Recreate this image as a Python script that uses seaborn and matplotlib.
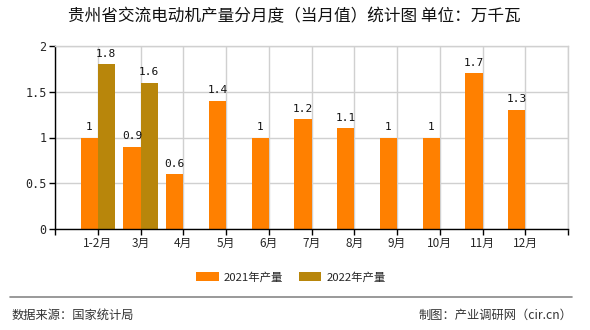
import numpy as np
import pandas as pd
import matplotlib
matplotlib.use("Agg")
import matplotlib.pyplot as plt
import seaborn as sns
from matplotlib.patches import Patch

months = ["1-2月", "3月", "4月", "5月", "6月", "7月", "8月", "9月", "10月", "11月", "12月"]
v2021 = [1, 0.9, 0.6, 1.4, 1, 1.2, 1.1, 1, 1, 1.7, 1.3]
v2022 = [1.8, 1.6, np.nan, np.nan, np.nan, np.nan, np.nan, np.nan, np.nan, np.nan, np.nan]
series = ["2021年产量", "2022年产量"]
colors = ["#FF8000", "#B8860B"]
yticks = [0, 0.5, 1, 1.5, 2]
ytick_labels = ["0", "0.5", "1", "1.5", "2"]
title = "贵州省交流电动机产量分月度（当月值）统计图 单位：万千瓦"

df = pd.DataFrame({
    "month": months * 2,
    "value": v2021 + v2022,
    "series": [series[0]] * len(months) + [series[1]] * len(months),
})

sns.set_theme(style="white")
plt.rcParams["font.family"] = ["Noto Sans CJK SC", "DejaVu Sans"]

fig = plt.figure(figsize=(5.9, 3.3), dpi=100)
ax = fig.add_axes([55 / 590, 1 - 229 / 330, (568 - 55) / 590, (229 - 46) / 330])

sns.barplot(data=df, x="month", y="value", hue="series", order=months,
            hue_order=series, palette=colors, width=0.8, ax=ax,
            saturation=1, legend=False, linewidth=0, edgecolor="none")

for cont in ax.containers:
    labels = []
    for b in cont:
        h = b.get_height()
        labels.append("" if (h is None or np.isnan(h)) else f"{h:g}")
    ax.bar_label(cont, labels=labels, padding=4, fontsize=8,
                 family=["DejaVu Sans Mono", "DejaVu Sans"], color="#111111")

ax.set_xlim(-1, len(months))
ax.set_ylim(0, 2)
ax.set_xticks(range(-1, len(months) + 1))
ax.set_xticklabels([""] + months + [""], fontsize=8.5)
ax.set_yticks(yticks)
ax.set_yticklabels(ytick_labels, fontsize=8.5,
                   family=["DejaVu Sans Mono", "DejaVu Sans"])
ax.set_xlabel("")
ax.set_ylabel("")
ax.grid(True, color="#d0d0d0", linewidth=1)
ax.set_axisbelow(True)
ax.tick_params(axis="both", length=4, width=1, color="black", direction="out", pad=2)
ax.tick_params(axis="x", bottom=True)
ax.tick_params(axis="y", left=True)
for s in ["top", "right"]:
    ax.spines[s].set_color("#d0d0d0")
    ax.spines[s].set_linewidth(1)
for s in ["left", "bottom"]:
    ax.spines[s].set_color("black")
    ax.spines[s].set_linewidth(1)

fig.text(294 / 590, 1 - 17 / 330, title, ha="center", va="center", fontsize=12, color="#111111")

handles = [Patch(facecolor=c, edgecolor="none", label=s) for c, s in zip(colors, series)]
fig.legend(handles=handles, loc="center", bbox_to_anchor=(291 / 590, 1 - 277 / 330), ncol=2,
           frameon=False, fontsize=8.2, handlelength=1.95, handleheight=0.8,
           columnspacing=1.4, handletextpad=0.45, borderpad=0, borderaxespad=0)

fig.add_artist(plt.Line2D([10 / 590, 572 / 590], [1 - 297 / 330, 1 - 297 / 330],
                          color="#888888", linewidth=1.2))
fig.text(12 / 590, 1 - 315 / 330, "数据来源：国家统计局", ha="left", va="center", fontsize=8.8, color="#333333")
fig.text(572 / 590, 1 - 315 / 330, "制图：产业调研网（cir.cn）", ha="right", va="center", fontsize=8.8, color="#333333")

fig.savefig("out.png", dpi=100)
